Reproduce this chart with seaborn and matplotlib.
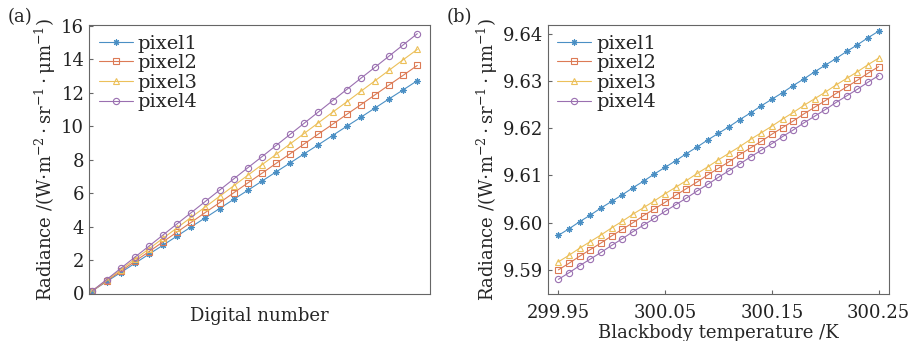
import numpy as np
import pandas as pd
import matplotlib
matplotlib.use("Agg")
import matplotlib.pyplot as plt
import seaborn as sns

# (a) radiance vs digital number, 24 samples
dn = list(range(1, 25))
a_pixel1 = [0.16, 0.71, 1.25, 1.80, 2.35, 2.89, 3.44, 3.99, 4.53, 5.08, 5.63, 6.17,
            6.72, 7.27, 7.81, 8.36, 8.90, 9.45, 10.00, 10.54, 11.09, 11.64, 12.18, 12.73]
a_pixel2 = [0.16, 0.75, 1.33, 1.92, 2.50, 3.09, 3.68, 4.26, 4.85, 5.43, 6.02, 6.61,
            7.19, 7.78, 8.36, 8.95, 9.54, 10.12, 10.71, 11.29, 11.88, 12.47, 13.05, 13.64]
a_pixel3 = [0.16, 0.79, 1.42, 2.04, 2.67, 3.30, 3.93, 4.56, 5.18, 5.81, 6.44, 7.07,
            7.70, 8.32, 8.95, 9.58, 10.21, 10.84, 11.46, 12.09, 12.72, 13.35, 13.98, 14.60]
a_pixel4 = [0.16, 0.83, 1.50, 2.17, 2.83, 3.50, 4.17, 4.84, 5.51, 6.18, 6.85, 7.52,
            8.18, 8.85, 9.52, 10.19, 10.86, 11.53, 12.20, 12.87, 13.53, 14.20, 14.87, 15.54]

# (b) radiance vs blackbody temperature, 31 samples
temp = [299.95, 299.96, 299.97, 299.98, 299.99, 300.00, 300.01, 300.02, 300.03, 300.04,
        300.05, 300.06, 300.07, 300.08, 300.09, 300.10, 300.11, 300.12, 300.13, 300.14,
        300.15, 300.16, 300.17, 300.18, 300.19, 300.20, 300.21, 300.22, 300.23, 300.24, 300.25]
b_pixel1 = [9.5973, 9.5987, 9.6002, 9.6016, 9.6031, 9.6045, 9.6059, 9.6074, 9.6088, 9.6103,
            9.6117, 9.6131, 9.6146, 9.6160, 9.6175, 9.6189, 9.6203, 9.6218, 9.6232, 9.6247,
            9.6261, 9.6275, 9.6290, 9.6304, 9.6319, 9.6333, 9.6347, 9.6362, 9.6376, 9.6391, 9.6405]
b_pixel2 = [9.5900, 9.5914, 9.5929, 9.5943, 9.5957, 9.5972, 9.5986, 9.6000, 9.6015, 9.6029,
            9.6043, 9.6058, 9.6072, 9.6086, 9.6101, 9.6115, 9.6129, 9.6144, 9.6158, 9.6172,
            9.6187, 9.6201, 9.6215, 9.6230, 9.6244, 9.6258, 9.6273, 9.6287, 9.6301, 9.6316, 9.6330]
b_pixel3 = [9.5917, 9.5931, 9.5946, 9.5960, 9.5974, 9.5989, 9.6003, 9.6018, 9.6032, 9.6046,
            9.6061, 9.6075, 9.6089, 9.6104, 9.6118, 9.6133, 9.6147, 9.6161, 9.6176, 9.6190,
            9.6204, 9.6219, 9.6233, 9.6248, 9.6262, 9.6276, 9.6291, 9.6305, 9.6319, 9.6334, 9.6348]
b_pixel4 = [9.5880, 9.5894, 9.5909, 9.5923, 9.5937, 9.5952, 9.5966, 9.5981, 9.5995, 9.6009,
            9.6024, 9.6038, 9.6052, 9.6067, 9.6081, 9.6096, 9.6110, 9.6124, 9.6139, 9.6153,
            9.6167, 9.6182, 9.6196, 9.6211, 9.6225, 9.6239, 9.6254, 9.6268, 9.6282, 9.6297, 9.6311]

labels = ["pixel1", "pixel2", "pixel3", "pixel4"]
colors = ["#4a8fc4", "#dc7a55", "#ecc05a", "#9a6fb0"]
markers = [(8, 2, 0), "s", "^", "o"]

sns.set_style("ticks")
plt.rcParams["font.family"] = ["DejaVu Serif"]
plt.rcParams["mathtext.fontset"] = "dejavuserif"
plt.rcParams["axes.edgecolor"] = "#666666"
plt.rcParams["xtick.color"] = "#666666"
plt.rcParams["ytick.color"] = "#666666"
plt.rcParams["xtick.labelcolor"] = "#222222"
plt.rcParams["ytick.labelcolor"] = "#222222"

fs = 13
ylab = r"Radiance /(W$\cdot$m$^{-2}\cdot$sr$^{-1}\cdot$μm$^{-1}$)"

fig = plt.figure(figsize=(9.12, 3.41), dpi=100)
ax1 = fig.add_axes([0.0976, 0.1364, 0.3739, 0.7903])
ax2 = fig.add_axes([0.6005, 0.1364, 0.3743, 0.7903])


def draw(ax, x, series, ms):
    for y, lab, c, m in zip(series, labels, colors, markers):
        sns.lineplot(x=x, y=y, ax=ax, color=c, label=lab, marker=m,
                     markersize=ms if m != "^" else ms + 0.5,
                     markerfacecolor="none" if m != markers[0] else c,
                     markeredgecolor=c, markeredgewidth=0.8, linewidth=0.8)
    ax.legend(loc="upper left", frameon=False, fontsize=14, handlelength=1.75,
              handletextpad=0.25, labelspacing=0.08, borderaxespad=0.2,
              borderpad=0.3)
    ax.tick_params(direction="in", length=3, width=0.8, labelsize=fs,
                   top=False, right=False)
    for s in ax.spines.values():
        s.set_linewidth(0.8)


draw(ax1, dn, [a_pixel1, a_pixel2, a_pixel3, a_pixel4], 4.5)
ax1.set_xlim(0.76, 24.9)
ax1.set_ylim(-0.06, 16.06)
ax1.set_yticks(range(0, 17, 2))
ax1.set_xticks([])
ax1.set_xlabel("Digital number", fontsize=fs, labelpad=9)
ax1.set_ylabel(ylab, fontsize=fs, labelpad=2)

draw(ax2, temp, [b_pixel1, b_pixel2, b_pixel3, b_pixel4], 4.5)
ax2.set_xlim(299.94, 300.2597)
ax2.set_ylim(9.5848, 9.6418)
ax2.set_xticks([299.95, 300.05, 300.15, 300.25])
ax2.set_xticklabels(["299.95", "300.05", "300.15", "300.25"])
ax2.tick_params(axis="x", pad=7)
ax2.set_yticks([9.59, 9.60, 9.61, 9.62, 9.63, 9.64])
ax2.set_yticklabels(["9.59", "9.60", "9.61", "9.62", "9.63", "9.64"])
ax2.set_xlabel("Blackbody temperature /K", fontsize=fs, labelpad=1)
ax2.set_ylabel(ylab, fontsize=fs, labelpad=2)

fig.text(0.008, 0.935, "(a)", fontsize=fs)
fig.text(0.49, 0.935, "(b)", fontsize=fs)

fig.savefig("out.png", dpi=100)
